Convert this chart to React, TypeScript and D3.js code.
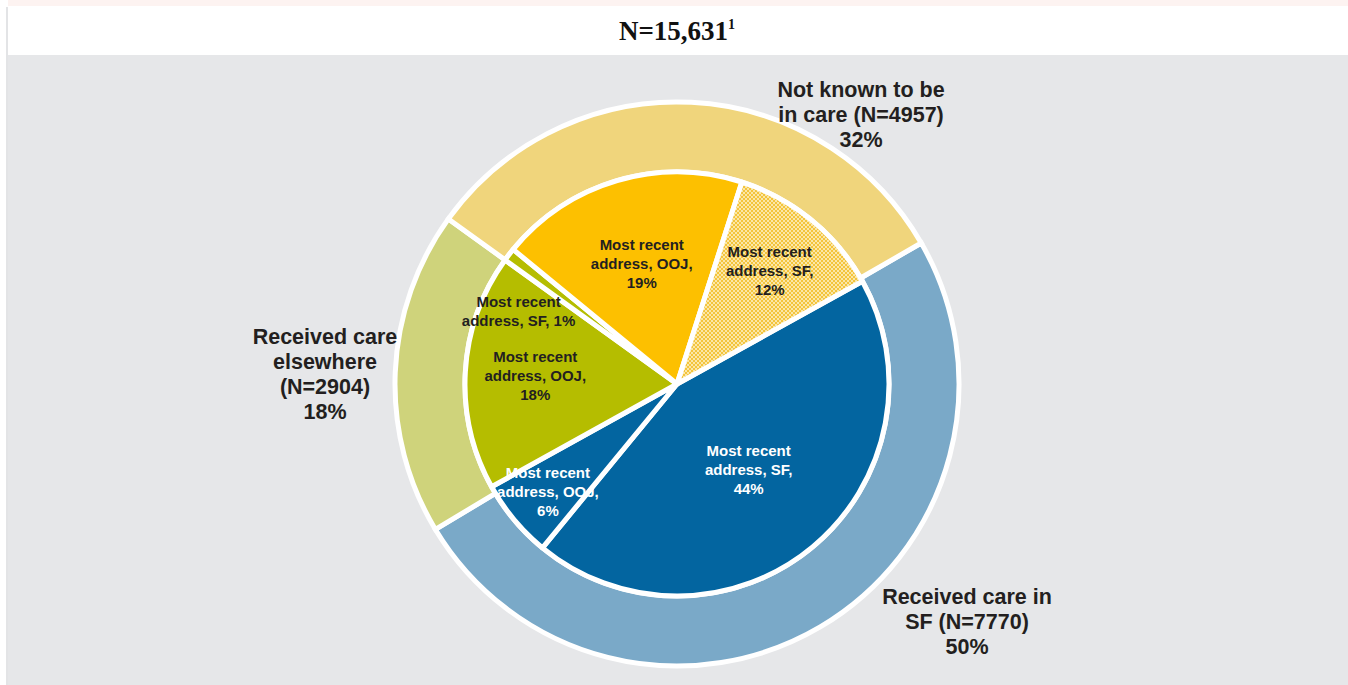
import React from "react";
import * as d3 from "d3";

const outerCategories = ["Received care in SF", "Received care elsewhere", "Not known to be in care"];
const outerCounts = [7770, 2904, 4957];
const outerPct = [50, 18, 32];

const innerAddress = ["SF", "OOJ", "OOJ", "SF", "OOJ", "SF"];
const innerPct = [44, 6, 18, 1, 19, 12];
const innerParent = [0, 0, 1, 1, 2, 2];

const totalN = "15,631";

const W = 1348;
const H = 685;
const cx = 677;
const cy = 384;
const rInner = 212;
const rOuter = 282;
const startDegOuter = 60;
const startDegInner = 61;

const outerFill = ["#7aa9c8", "#cfd37b", "#f0d57c"];
const innerFill = ["#0365a0", "#0365a0", "#b5bd00", "#b5bd00", "#fdc000", "url(#hatch)"];
const innerText = ["#ffffff", "#ffffff", "#231f20", "#231f20", "#231f20", "#231f20"];
const innerLabelR = [112, 168, 142, 200, 125, 146];
const innerLabelDy = [0, 0, 0, 50, 0, 0];
const innerLines = (i: number) => {
  if (i === 3) return ["Most recent", `address, ${innerAddress[i]}, ${innerPct[i]}%`];
  return ["Most recent", `address, ${innerAddress[i]},`, `${innerPct[i]}%`];
};

const outerLabelLines = [
  ["Received care in", `SF (N=${outerCounts[0]})`, `${outerPct[0]}%`],
  ["Received care", "elsewhere", `(N=${outerCounts[1]})`, `${outerPct[1]}%`],
  ["Not known to be", `in care (N=${outerCounts[2]})`, `${outerPct[2]}%`],
];
const outerLabelPos = [
  [967, 604],
  [325, 344],
  [861, 97],
];

const makePie = (deg: number) => {
  const a0 = (deg * Math.PI) / 180;
  return d3
    .pie<number>()
    .sort(null)
    .value((d) => d)
    .startAngle(a0)
    .endAngle(a0 + 2 * Math.PI);
};

export default function App() {
  const outerArcs = makePie(startDegOuter)(outerCounts);
  const innerArcs = makePie(startDegInner)(innerPct);
  const arcOuter = d3.arc<d3.PieArcDatum<number>>().innerRadius(rInner).outerRadius(rOuter);
  const arcIn = d3.arc<d3.PieArcDatum<number>>().innerRadius(0).outerRadius(rInner);

  return (
    <svg
      width={W}
      height={H}
      style={{ position: "absolute", left: 0, top: 0, display: "block" }}
      fontFamily="'Liberation Sans', Arial, sans-serif"
    >
      <defs>
        <pattern id="hatch" width="4" height="4" patternUnits="userSpaceOnUse">
          <rect width="4" height="4" fill="#fbe7a8" />
          <rect x="0" y="0" width="2" height="2" fill="#f3c43c" />
          <rect x="2" y="2" width="2" height="2" fill="#f3c43c" />
        </pattern>
      </defs>
      <rect x={0} y={0} width={W} height={H} fill="#ffffff" />
      <rect x={8} y={0} width={W - 8} height={6} fill="#fdf3f1" />
      <rect x={6} y={7} width={2} height={H - 7} fill="#e3e4e6" />
      <rect x={8} y={55} width={W - 8} height={H - 55} fill="#e6e7e9" />
      <text
        x={677}
        y={40}
        textAnchor="middle"
        fontFamily="'Liberation Serif', 'DejaVu Serif', serif"
        fontWeight="bold"
        fontSize={27}
        fill="#111"
      >
        N={totalN}
        <tspan fontSize={14} dy={-11}>
          1
        </tspan>
      </text>
      <g transform={`translate(${cx},${cy})`}>
        {outerArcs.map((a, i) => (
          <path key={"o" + i} d={arcOuter(a) || ""} fill={outerFill[i]} stroke="#fff" strokeWidth={5} />
        ))}
        {innerArcs.map((a, i) => (
          <path key={"i" + i} d={arcIn(a) || ""} fill={innerFill[i]} stroke="#fff" strokeWidth={5} strokeLinejoin="round" />
        ))}
        {innerArcs.map((a, i) => {
          const lines = innerLines(i);
          const mid = (a.startAngle + a.endAngle) / 2;
          const x = Math.sin(mid) * innerLabelR[i];
          const y = -Math.cos(mid) * innerLabelR[i] + innerLabelDy[i];
          const lh = 19;
          const y0 = y - ((lines.length - 1) * lh) / 2 + 5;
          return (
            <text key={"t" + i} textAnchor="middle" fontWeight="bold" fontSize={15} fill={innerText[i]}>
              {lines.map((l, j) => (
                <tspan key={j} x={x} y={y0 + j * lh}>
                  {l}
                </tspan>
              ))}
            </text>
          );
        })}
      </g>
      {outerLabelLines.map((lines, i) => (
        <text key={"ol" + i} textAnchor="middle" fontWeight="bold" fontSize={21.5} fill="#231f20">
          {lines.map((l, j) => (
            <tspan key={j} x={outerLabelPos[i][0]} y={outerLabelPos[i][1] + j * 25}>
              {l}
            </tspan>
          ))}
        </text>
      ))}
    </svg>
  );
}
